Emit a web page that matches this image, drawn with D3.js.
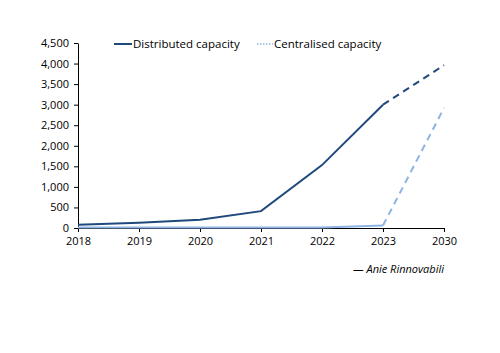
<!DOCTYPE html>
<html>
<head>
<meta charset="utf-8">
<script src="https://cdn.jsdelivr.net/npm/d3@7"></script>
<style>
  body { margin: 0; background: #fff; }
  svg text { font-family: "Open Sans", "DejaVu Sans", sans-serif; }
</style>
</head>
<body>
<div class="chart"></div>
<script>
// Chart data
const years = ["2018", "2019", "2020", "2021", "2022", "2023", "2030"];
const distributed = [80, 130, 200, 410, 1530, 3000, 3960];
const centralised = [10, 10, 10, 10, 10, 60, 2920];
const yTicks = [0, 500, 1000, 1500, 2000, 2500, 3000, 3500, 4000, 4500];

const width = 500;
const height = 353;
const margin = { top: 43, right: 56, bottom: 125, left: 78 };
const innerWidth = width - margin.left - margin.right;
const innerHeight = height - margin.top - margin.bottom;

const darkBlue = "#1f497d";
const lightBlue = "#8db4e2";

const svg = d3.select(".chart")
  .append("svg")
  .attr("width", width)
  .attr("height", height);

const chart = svg.append("g")
  .attr("transform", `translate(${margin.left}, ${margin.top})`);

const x = d3.scalePoint()
  .domain(years)
  .range([0, innerWidth]);

const y = d3.scaleLinear()
  .domain([0, 4500])
  .range([innerHeight, 0]);

// Axes
const yAxis = chart.append("g")
  .call(d3.axisLeft(y).tickValues(yTicks).tickFormat(d3.format(",")).tickSize(4).tickSizeOuter(0));
yAxis.selectAll("text").attr("font-size", 11).attr("fill", "#000").attr("dx", "-2");
yAxis.selectAll("line, path").attr("stroke", "#000");

const xAxis = chart.append("g")
  .attr("transform", `translate(0, ${innerHeight})`)
  .call(d3.axisBottom(x).tickSize(4).tickSizeOuter(0));
xAxis.selectAll("text").attr("font-size", 11).attr("fill", "#000").attr("dy", "0.9em");
xAxis.selectAll("line, path").attr("stroke", "#000");

const line = d3.line()
  .x(d => x(d[0]))
  .y(d => y(d[1]));

function drawSeries(values, color) {
  const pts = years.map((yr, i) => [yr, values[i]]);
  const split = years.indexOf("2023");
  chart.append("path")
    .datum(pts.slice(0, split + 1))
    .attr("d", line)
    .attr("fill", "none")
    .attr("stroke", color)
    .attr("stroke-width", 2);
  chart.append("path")
    .datum(pts.slice(split))
    .attr("d", line)
    .attr("fill", "none")
    .attr("stroke", color)
    .attr("stroke-width", 2)
    .attr("stroke-dasharray", "7,5");
}

drawSeries(centralised, lightBlue);
drawSeries(distributed, darkBlue);

// Legend
const legend = svg.append("g").attr("transform", "translate(114, 44)");
legend.append("line")
  .attr("x1", 0).attr("x2", 18)
  .attr("stroke", darkBlue).attr("stroke-width", 2);
legend.append("text")
  .attr("x", 19).attr("dy", "0.35em")
  .attr("font-size", 11.5)
  .text("Distributed capacity");
legend.append("line")
  .attr("x1", 143).attr("x2", 159)
  .attr("stroke", lightBlue).attr("stroke-width", 1.5)
  .attr("stroke-dasharray", "1.5,1.5");
legend.append("text")
  .attr("x", 160).attr("dy", "0.35em")
  .attr("font-size", 11.5)
  .text("Centralised capacity");

// Source
svg.append("text")
  .attr("x", 444)
  .attr("y", 273)
  .attr("text-anchor", "end")
  .attr("font-size", 11)
  .attr("font-style", "italic")
  .text("— Anie Rinnovabili");
</script>
</body>
</html>
